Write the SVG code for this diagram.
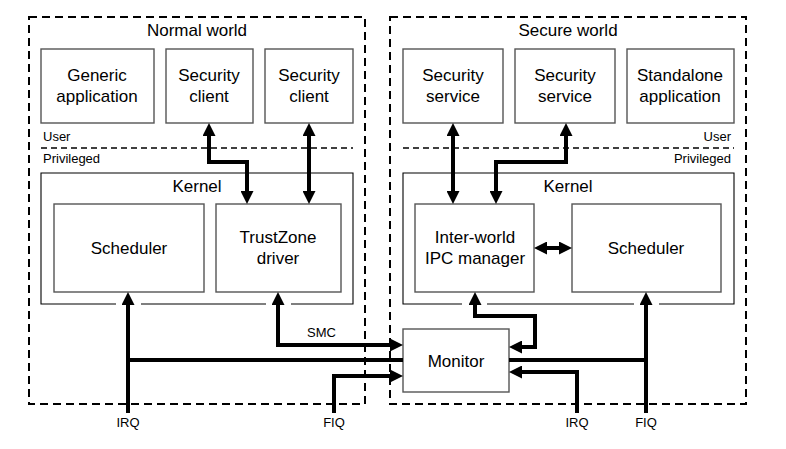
<svg xmlns="http://www.w3.org/2000/svg" width="786" height="449" viewBox="0 0 786 449">
<defs>
<marker id="ah" markerUnits="userSpaceOnUse" markerWidth="13" markerHeight="13" refX="0" refY="6.5" orient="auto-start-reverse" viewBox="0 0 13 13">
<path d="M0,0 L13,6.5 L0,13 z" fill="#000"/>
</marker>
<style>
text{font-family:"Liberation Sans",Arial,sans-serif;fill:#000}
.t{font-size:17px;text-anchor:middle}
.s{font-size:13px}
.m{text-anchor:middle}
.e{text-anchor:end}
.world{fill:none;stroke:#000;stroke-width:2;stroke-dasharray:8,5}
.sep{fill:none;stroke:#000;stroke-width:1.5;stroke-dasharray:6,4}
.node{fill:#fff;stroke:#555;stroke-width:1.4}
.kern{fill:none;stroke:#000;stroke-width:1.1}
.c{fill:none;stroke:#000;stroke-width:4;stroke-linejoin:miter}
.a{marker-end:url(#ah)}
.b{marker-start:url(#ah);marker-end:url(#ah)}
</style>
</defs>

<g id="normal-world">
<rect class="world" x="29" y="17" width="336" height="387"/>
<text class="t" x="197" y="36">Normal world</text>
<line class="sep" x1="41" y1="148" x2="353" y2="148"/>
<text class="s" x="43" y="141">User</text>
<text class="s" x="43" y="163">Privileged</text>
</g>
<g id="secure-world">
<rect class="world" x="390" y="17" width="356" height="387"/>
<text class="t" x="568" y="36">Secure world</text>
<line class="sep" x1="403" y1="148" x2="734" y2="148"/>
<text class="s e" x="731" y="141">User</text>
<text class="s e" x="731" y="163">Privileged</text>
</g>

<g id="generic-application">
<rect class="node" x="41" y="49" width="113" height="74"/>
<text class="t" x="97" y="81">Generic</text>
<text class="t" x="97" y="102">application</text>
</g>
<g id="security-client-1">
<rect class="node" x="166" y="49" width="87" height="74"/>
<text class="t" x="209" y="81">Security</text>
<text class="t" x="209" y="102">client</text>
</g>
<g id="security-client-2">
<rect class="node" x="265" y="49" width="88" height="74"/>
<text class="t" x="309" y="81">Security</text>
<text class="t" x="309" y="102">client</text>
</g>
<g id="security-service-1">
<rect class="node" x="403" y="49" width="100" height="74"/>
<text class="t" x="453" y="81">Security</text>
<text class="t" x="453" y="102">service</text>
</g>
<g id="security-service-2">
<rect class="node" x="515" y="49" width="100" height="74"/>
<text class="t" x="565" y="81">Security</text>
<text class="t" x="565" y="102">service</text>
</g>
<g id="standalone-application">
<rect class="node" x="627" y="49" width="107" height="74"/>
<text class="t" x="680" y="81">Standalone</text>
<text class="t" x="680" y="102">application</text>
</g>

<g id="normal-kernel">
<path class="kern" d="M116,304 L41,304 L41,173 L353,173 L353,304 L291,304 M266,304 L141,304"/>
<text class="t" x="197" y="192">Kernel</text>
</g>
<g id="normal-scheduler">
<rect class="node" x="54" y="204" width="150" height="88"/>
<text class="t" x="129" y="254">Scheduler</text>
</g>
<g id="trustzone-driver">
<rect class="node" x="216" y="204" width="125" height="88"/>
<text class="t" x="278" y="243">TrustZone</text>
<text class="t" x="278" y="264">driver</text>
</g>

<g id="secure-kernel">
<path class="kern" d="M462,304 L403,304 L403,173 L734,173 L734,304 L659,304 M634,304 L487,304"/>
<text class="t" x="568" y="192">Kernel</text>
</g>
<g id="ipc-manager">
<rect class="node" x="415" y="204" width="119" height="88"/>
<text class="t" x="475" y="243">Inter-world</text>
<text class="t" x="475" y="264">IPC manager</text>
</g>
<g id="secure-scheduler">
<rect class="node" x="572" y="204" width="149" height="88"/>
<text class="t" x="646" y="254">Scheduler</text>
</g>

<g id="monitor">
<rect class="node" x="403" y="329" width="106" height="63"/>
<text class="t" x="456" y="367">Monitor</text>
</g>

<g id="connectors">
<path class="c b" d="M209,136 L209,162 L247,162 L247,191"/>
<path class="c b" d="M309,136 L309,191"/>
<path class="c b" d="M453,136 L453,191"/>
<path class="c b" d="M566,136 L566,162 L496,162 L496,191"/>
<path class="c b" d="M547,248 L559,248"/>
<path class="c b" d="M278,305 L278,345 L390,345"/>
<path class="c a" d="M128,413 L128,305"/>
<path class="c" d="M128,360 L403,360"/>
<path class="c a" d="M334,413 L334,376 L390,376"/>
<path class="c b" d="M475,305 L475,316 L535,316 L535,347 L522,347"/>
<path class="c a" d="M577,413 L577,372 L522,372"/>
<path class="c a" d="M646,413 L646,305"/>
<path class="c" d="M509,360 L646,360"/>
<text class="s" x="307" y="337">SMC</text>
<text class="s m" x="128" y="427">IRQ</text>
<text class="s m" x="334" y="427">FIQ</text>
<text class="s m" x="577" y="427">IRQ</text>
<text class="s m" x="646" y="427">FIQ</text>
</g>
</svg>
